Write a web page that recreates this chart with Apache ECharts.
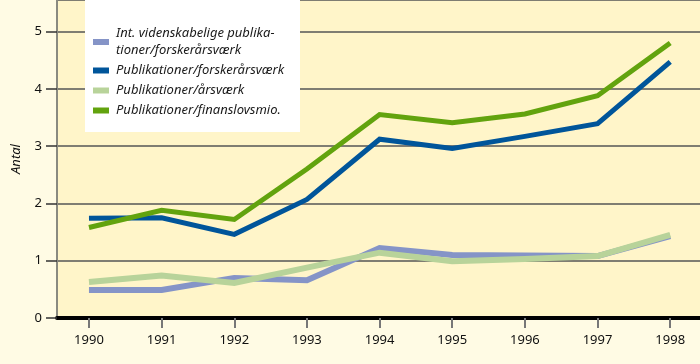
<!DOCTYPE html>
<html><head><meta charset="utf-8">
<script src="https://cdn.jsdelivr.net/npm/echarts@6/dist/echarts.min.js"></script>
<style>html,body{margin:0;padding:0;background:#FFFBE4;}#c{width:700px;height:364px;}</style>
</head><body><div id="c"></div>
<script>
var years = [1990, 1991, 1992, 1993, 1994, 1995, 1996, 1997, 1998];
var yTicks = [0, 1, 2, 3, 4, 5];
var seriesNames = [
  'Int. videnskabelige publika-\ntioner/forskerårsværk',
  'Publikationer/forskerårsværk',
  'Publikationer/årsværk',
  'Publikationer/finanslovsmio.'
];
var intPubPerForsker = [0.49, 0.49, 0.70, 0.66, 1.22, 1.10, 1.09, 1.08, 1.43];
var pubPerForsker = [1.74, 1.75, 1.46, 2.07, 3.12, 2.96, 3.17, 3.39, 4.47];
var pubPerAarsvaerk = [0.63, 0.74, 0.61, 0.88, 1.14, 0.99, 1.03, 1.08, 1.45];
var pubPerFinanslov = [1.58, 1.88, 1.72, 2.60, 3.55, 3.41, 3.56, 3.88, 4.80];

var colors = ['#8594C7', '#00559A', '#B8D39A', '#62A30E'];
var widths = [6, 5, 6, 5];
var allData = [intPubPerForsker, pubPerForsker, pubPerAarsvaerk, pubPerFinanslov];
var font = '"Noto Sans", "Open Sans", sans-serif';

var chart = echarts.init(document.getElementById('c'), null, {renderer: 'canvas'});
var series = allData.map(function (arr, i) {
  return {
    name: seriesNames[i],
    type: 'line',
    data: years.map(function (y, k) { return [y, arr[k]]; }),
    symbol: 'none',
    lineStyle: {color: colors[i], width: widths[i], join: 'miter'},
    itemStyle: {color: colors[i]},
    z: 3 + (i === 2 ? 1 : 0),
    animation: false
  };
});
chart.setOption({
  backgroundColor: '#FFFBE4',
  animation: false,
  graphic: [{
    type: 'rect', left: 85, top: 0, z: 1,
    shape: {width: 215, height: 132},
    style: {fill: '#FFFFFF'}
  }],
  legend: {
    orient: 'vertical', left: 88, top: 20,
    itemWidth: 16, itemHeight: 6, itemGap: 3,
    icon: 'rect',
    z: 5,
    textStyle: {fontFamily: font, fontStyle: 'italic', fontSize: 13, color: '#1a1a1a', lineHeight: 17, padding: [0, 0, 0, 2]},
    data: seriesNames.map(function (n) { return {name: n, icon: 'rect'}; })
  },
  grid: {left: 57, right: 0, top: 0, bottom: 46, show: true, backgroundColor: '#FFF5C9', borderWidth: 0},
  xAxis: {
    type: 'value', min: 1989.56, max: 1998.41,
    axisLine: {show: true, lineStyle: {color: '#000', width: 4}},
    axisTick: {show: true, customValues: years, length: 10, lineStyle: {color: '#777', width: 2}},
    axisLabel: {customValues: years, margin: 16, fontFamily: font, fontSize: 13, color: '#111', formatter: function (v) { return String(Math.round(v)); }},
    splitLine: {show: false}
  },
  yAxis: {
    type: 'value', min: 0, max: 5.55, interval: 1,
    name: 'Antal', nameLocation: 'middle', nameRotate: 90, nameGap: 34,
    nameTextStyle: {fontFamily: font, fontStyle: 'italic', fontSize: 13, color: '#111'},
    axisLine: {show: true, lineStyle: {color: '#8a8a80', width: 2}},
    axisTick: {show: true, length: 11, lineStyle: {color: '#333', width: 1.5}},
    axisLabel: {showMaxLabel: false, margin: 15, fontFamily: font, fontSize: 13, color: '#111'},
    splitLine: {show: true, lineStyle: {color: '#555', width: 1.5}}
  },
  series: series
});
</script></body></html>
